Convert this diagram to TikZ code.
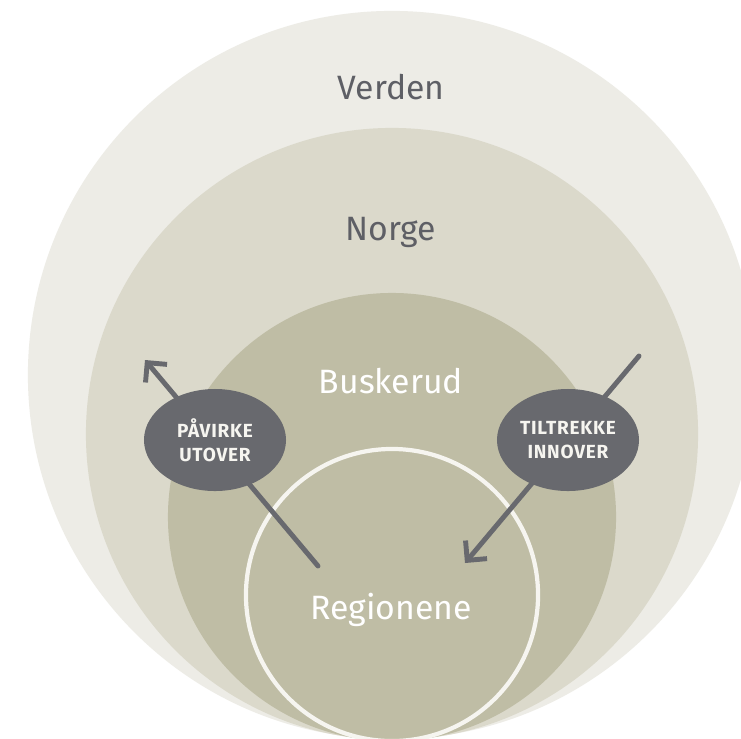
\documentclass[tikz,border=0pt]{standalone}
\usepackage{fontspec}
\setmainfont{Fira Sans}
\usetikzlibrary{positioning,arrows.meta,shapes.geometric}
\definecolor{verdengray}{RGB}{237,236,230}
\definecolor{norgegray}{RGB}{219,217,203}
\definecolor{buskerudgray}{RGB}{191,189,165}
\definecolor{ringwhite}{RGB}{246,245,240}
\definecolor{slatedark}{RGB}{104,105,110}
\definecolor{titlegray}{RGB}{94,95,101}
\tikzset{
  zone/.style   = {circle, inner sep=0pt, outer sep=0pt},
  title/.style  = {font=\fontsize{24}{28}\selectfont, text=titlegray,
                   inner sep=0pt, anchor=base},
  inner/.style  = {title, text=white},
  bubble/.style = {ellipse, fill=slatedark, inner sep=0pt,
                   minimum width=3.55cm, minimum height=2.55cm,
                   align=center, text=ringwhite,
                   font=\bfseries\fontsize{13.5}{17}\selectfont\addfontfeatures{LetterSpace=4}},
  arr/.style    = {-{Straight Barb[length=10pt,width=20pt]},
                   line width=3.5pt, draw=slatedark, line cap=round}
}

\begin{document}
\begin{tikzpicture}[x=0.025cm, y=-0.025cm]   % 1 Einheit = 1 Pixel
  \useasboundingbox (0,0) rectangle (741,738);
  \clip (0,0) rectangle (741,738);
  \fill[white] (0,0) rectangle (741,738);

  % Kreise, unten alle fast im gleichen Punkt
  \node[zone, fill=verdengray,   minimum size=18.2cm]  (verden)   at (392,375) {};
  \node[zone, fill=norgegray,    minimum size=15.3cm]  (norge)    at (392,434) {};
  \node[zone, fill=buskerudgray, minimum size=11.2cm]  (buskerud) at (392,517) {};
  \node[zone, draw=ringwhite, line width=3pt,
        minimum size=7.3cm] (regionene) at (392,595) {};

  \node[title] (verdenlab)   at (391,99)  {Verden};
  \node[title] (norgelab)    at (391,240) {Norge};
  \node[inner] (buskerudlab) at (391,393) {Buskerud};
  \node[inner] (regionlab)   at (391,619) {Regionene};

  % Pfeile laufen unter den Ellipsen durch
  \coordinate (utfra) at (318,566);
  \coordinate (uttil) at (145,360);
  \coordinate (innfra) at (639,356);
  \coordinate (inntil) at (465,563);
  \draw[arr] (utfra) -- (uttil);
  \draw[arr] (innfra) -- (inntil);

  \node[bubble] (pavirke)   at (215,440) {PÅVIRKE\\UTOVER};
  \node[bubble] (tiltrekke) at (568,440) {TILTREKKE\\INNOVER};
\end{tikzpicture}
\end{document}
